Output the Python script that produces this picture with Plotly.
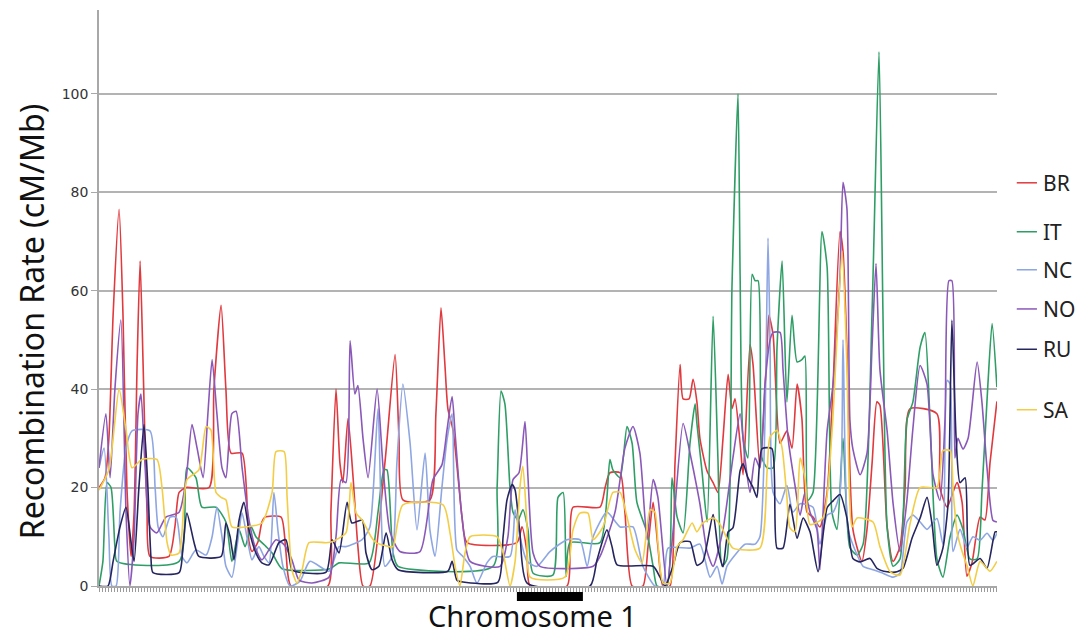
import plotly.graph_objects as go

# ---- data (x = marker position index along chromosome 1, y = cM/Mb) ----
br_pos = [0, 2, 3.3, 4.7, 6.7, 8, 9.3, 10.7, 11.7, 12.7, 13.7, 14.7, 16, 17, 23.3, 25.3, 26.7, 29, 36.7, 38.3, 40.7, 42.3, 44, 47.7, 50, 51, 53, 54.3, 55.3, 60.7, 62.3, 64, 76.3, 77.3, 79, 80.3, 81.3, 83, 84.7, 86.3, 88, 90.3, 95.3, 98.7, 100, 101.3, 110.3, 112.3, 114, 115.3, 116.3, 118, 119.7, 121, 122.7, 139.3, 141, 142.7, 143.7, 156, 157, 158, 167, 168.7, 170.3, 173.7, 175.3, 177.7, 181.3, 183, 184.7, 186.3, 188, 190.3, 192, 193.7, 194.7, 196.7, 198, 199.3, 200.3, 202.7, 204.7, 206.3, 208, 209.7, 211, 212, 213.7, 214.7, 217, 218, 220.3, 222.7, 223.3, 224.7, 227, 229.3, 231, 232.7, 234.3, 236, 238, 240.3, 242.7, 244.7, 247, 248, 249.3, 251.3, 254.3, 256, 257.7, 259.3, 260.3, 262.7, 264.7, 267, 268.7, 270.3, 279.3, 280.3, 282.7, 286, 287.7, 289.3, 291, 293.7, 295.3, 297, 299.3]
br_val = [20, 22, 30, 55, 76.5, 55, 20, 6, 15, 45, 66, 45, 15, 6, 6, 12, 19, 20, 20, 40, 57, 40, 27, 27, 9, 7, 9, 13, 14, 14, 7, 0, 0, 15, 40, 25, 21, 34, 22, 8, 0, 0, 25, 47, 30, 17.5, 17.5, 35, 56.5, 45, 36, 31.7, 22, 14, 8.8, 8.8, 12, 6.7, 0, 0, 8, 16, 16, 20, 23, 23, 15, 0, 0, 8, 17, 8, 0, 0, 25, 45, 38, 38, 42, 37.4, 30, 23.3, 21, 19, 30, 43, 36, 38, 29, 22.6, 49, 45, 24, 48.5, 55, 51, 29, 31.5, 28, 41, 34, 15, 14, 12, 19, 41, 72, 68, 48.5, 11.5, 5, 11.5, 25, 37.4, 36.7, 12, 5, 8, 20, 36, 35, 20, 16, 21, 17, 2, 4.7, 14, 13.4, 25, 37.5]

it_pos = [0, 1.3, 2.7, 4, 5.3, 6, 26.7, 29.3, 32.3, 34.3, 39, 42.3, 44.3, 46.7, 48.7, 50.7, 52.3, 55.7, 57.7, 61, 77, 80, 90, 93, 95, 96, 98, 99.7, 131.3, 132.7, 134, 135.3, 137, 138, 139.7, 141.3, 143, 144.7, 151.3, 153, 154.7, 155.7, 157, 167, 170.3, 171.3, 173.7, 176, 177.7, 179.3, 182.7, 184.7, 186, 189.3, 191, 192.7, 194.7, 197, 198.7, 199.3, 201, 202.7, 204.7, 206.3, 207.7, 209.3, 211, 213, 213.7, 214.7, 216.3, 217.7, 218.7, 219.7, 221, 222.7, 224.7, 226, 227.7, 229.3, 231, 232.7, 234.3, 235.3, 236.3, 238, 241, 242.7, 244.3, 246, 248, 250.3, 252.7, 254.7, 257.7, 260, 261.3, 262.7, 264.7, 267, 269.3, 271.3, 273.7, 275.3, 277, 279.3, 281.3, 283.7, 286, 288, 290.3, 292.7, 294.3, 296.3, 297.7, 299.3]
it_val = [0, 5, 21, 20, 8, 5, 5, 24, 22, 16, 16, 13, 5, 11.4, 8, 12, 10, 8, 6.7, 3.5, 3.5, 4.7, 4.7, 15, 23.6, 23.6, 6.7, 4, 4, 20, 39.6, 37, 20, 15, 13.4, 15.5, 11.4, 2.6, 2.2, 18, 19, 2, 8.8, 8.8, 25.7, 23.6, 22, 32.4, 29, 17, 10.8, 4, 0, 0, 22, 14, 10.8, 29, 37, 33, 23.3, 13, 54.8, 26, 4, 5.5, 61, 100, 63, 30, 26, 63.3, 62, 62, 26, 24, 24, 48.5, 66, 37.4, 55, 45.5, 46, 46.7, 17.4, 19, 72, 64.8, 15, 11.5, 30, 7.8, 6.3, 8.5, 56, 108.5, 56, 12, 4, 5.5, 33.7, 37.4, 48.5, 51.5, 33.7, 5.5, 1.8, 10, 14.4, 11.5, 5.5, 5.5, 19, 41, 53.3, 40.4]

nc_pos = [0, 1.7, 3.3, 4.3, 5.7, 7, 9, 11, 17, 18.7, 19.7, 21.3, 23.7, 25.7, 27.7, 29.3, 32.3, 35.7, 37.7, 39.3, 41, 42.3, 44.3, 46, 47.7, 49.3, 51, 53.3, 55, 56.7, 58.3, 59.7, 61.3, 63.7, 67, 70.3, 76.7, 80, 82.3, 87.7, 90.3, 93, 95.3, 97.7, 99.3, 101.3, 103.7, 106, 108.7, 110.3, 112, 114.3, 116, 117.7, 119.3, 121.3, 123.7, 126, 129.3, 131.3, 137, 138.7, 140.3, 142.7, 146, 150.3, 156, 160.3, 162.7, 164.7, 169.3, 173.7, 178, 181.3, 185.3, 188, 189.7, 197, 200.3, 203.7, 206, 207.7, 209.3, 212, 215.3, 218.7, 220.3, 222, 223, 223.7, 224.7, 227, 229.3, 231.3, 233.7, 238, 240.3, 242.7, 244.7, 247, 248, 249.7, 252.7, 254.7, 258, 261.3, 264.7, 267, 269.3, 271.3, 273.7, 276, 279.3, 281.3, 282.7, 283.7, 284.7, 287, 289.3, 291.3, 293.7, 296, 298, 299.3]
nc_val = [24, 28, 10, 0, 0, 15, 28, 31.5, 31.5, 20, 12, 10, 14, 14, 6, 4.7, 7.3, 6.3, 10, 16, 10, 4, 1.8, 8, 14.8, 10, 5.3, 8, 6, 4.7, 19, 11, 4, 0, 1, 5, 3, 8, 8, 9.4, 12, 36, 4, 6, 25, 41, 29, 11.4, 27, 11.4, 6, 20, 29.7, 35, 7.3, 6, 4, 0.6, 4.7, 6, 6, 15.5, 10, 5, 4, 7, 9.4, 9.4, 4, 10, 15, 12, 12, 4, 0, 0, 7.7, 7.7, 8.5, 1.8, 4, 0.4, 4, 6.3, 8.5, 8.5, 10, 33.7, 70.7, 48.5, 19, 16.7, 20.4, 15, 16.7, 16, 8.5, 14.4, 15, 19, 50, 11.5, 6.3, 4, 3.3, 2.6, 1.8, 2.6, 13, 14.4, 13, 11.5, 13.7, 8.5, 41.8, 41, 7, 11.5, 7.8, 10, 9.3, 10.7, 9.3, 10.7]

no_pos = [0, 2.3, 3.7, 5.3, 7.3, 9, 10.3, 11.7, 13, 14, 15.3, 17, 19.3, 22.3, 26.7, 29, 31, 32.7, 34.7, 36.3, 37.7, 39.3, 41, 42.3, 44.3, 45.7, 47.7, 50, 52, 54.3, 59, 61.7, 64.3, 66.7, 71, 76.7, 79, 80.7, 82.3, 83.7, 85.3, 86.3, 88, 89.7, 92.7, 94.7, 97, 100.3, 107, 111.3, 114.3, 116, 117.7, 118.7, 121, 123.7, 133.7, 136.3, 138, 140, 142, 143, 144.7, 147, 164.7, 167, 172, 175.3, 178, 180.3, 182.7, 184.7, 186.3, 189.3, 191.3, 194.7, 197, 199.3, 200.3, 202.7, 204.7, 208, 211.3, 213.7, 215.3, 217, 218.7, 220.3, 222, 223.7, 224.7, 227, 228, 229.7, 232, 233.7, 235.3, 237, 239.3, 240.3, 242.7, 244.7, 247, 248, 249.3, 250.3, 251.3, 253.7, 256, 257.7, 259, 260.3, 262.7, 264.7, 267, 269.3, 271.3, 273.7, 276, 278, 280.3, 282, 283.3, 284.3, 285.3, 286.3, 288, 289.7, 292.7, 294.3, 296, 298, 299.3]
no_val = [24, 35, 22, 40, 54, 15, 0, 10, 35, 39, 25, 12, 10.8, 14, 15, 21.6, 32.8, 28, 22, 35, 46, 35, 24, 22, 35, 35.5, 24, 13.4, 8, 5.3, 9.4, 8.4, 5.3, 1.2, 0.6, 1.8, 10, 21.6, 21, 49.8, 39, 40.7, 30, 22, 40, 24, 11, 7, 7, 21.6, 24.6, 31.7, 38.5, 31, 14, 5, 4, 10, 21.6, 23, 33.4, 22, 6.7, 4, 4, 6, 15, 28, 32.4, 27, 9.4, 21.6, 18, 0, 10.8, 33, 27, 20, 16.7, 7, 4, 11.5, 26, 35, 26, 19, 26, 24, 41, 50, 51.5, 51.5, 44, 30, 20.4, 14.4, 19, 15, 11.5, 3.3, 31.5, 41, 63, 82, 76.7, 33.7, 27.8, 22.6, 27, 49, 65.5, 44, 31.5, 16.7, 7, 17.4, 32, 44.8, 41, 22.6, 17.4, 33.7, 62, 62, 26, 30, 27.8, 30, 45.5, 37.4, 24, 13.3, 13]

ru_pos = [0, 3, 4.7, 7, 9, 10.7, 11.7, 13.3, 15, 16.3, 17.3, 18, 26.7, 28, 29.3, 31.7, 33.3, 40.7, 42.3, 43.7, 45, 46.7, 48.3, 50, 52.3, 54.3, 56.7, 60, 62.3, 64.3, 66.7, 75.7, 77.7, 80, 82.7, 84.3, 87.7, 89, 91, 93.3, 95.7, 97.7, 99.7, 116.3, 117.7, 119.3, 121.3, 133, 134.7, 136, 137.7, 138.7, 140.3, 142.7, 163.7, 166, 169.3, 171, 172.7, 184.7, 187, 188.7, 191.3, 193.7, 197, 199.3, 201.3, 204.7, 206.3, 208, 209.7, 211.3, 213.7, 214.7, 216.3, 218, 219.3, 221, 224.3, 226, 228, 230.3, 232.7, 234.7, 237, 239.7, 242.7, 244.7, 247, 249.3, 251.3, 253.7, 257, 259.3, 262.7, 266, 268, 271, 273.7, 276, 277.7, 279.3, 281.3, 283, 284.3, 285.7, 287, 288.7, 290.3, 293.7, 296, 298.7, 299.3]
ru_val = [0, 0, 5, 12, 16, 8.8, 5, 20, 32.8, 20, 6, 2.7, 2.7, 8, 14.8, 8.8, 6, 6, 12.8, 10, 5.3, 13.4, 17, 11.4, 6.7, 4.7, 4.3, 8.8, 9.4, 3.3, 2.8, 2.8, 9.4, 6.7, 17, 12.8, 13.4, 6.7, 3.3, 4, 10.8, 5.3, 3.3, 3, 5, 1.2, 0.8, 0.8, 10, 17.5, 20.6, 19.5, 10.8, 0.6, 0, 5.3, 11.4, 8, 4.3, 4, 1.8, 0, 4, 8.8, 9, 4.2, 5, 14.5, 7.7, 3.9, 11, 11.8, 23.4, 24.8, 22, 20, 18, 27.9, 27.9, 7.7, 7.7, 16.6, 9.7, 13.8, 11, 2.9, 15.9, 17.3, 18.6, 13.8, 5.6, 4.9, 5.6, 3.6, 2.9, 2.9, 3.6, 9.7, 13.8, 18, 12.5, 4.2, 7.7, 16.6, 54, 30, 21, 22, 4.2, 5.6, 3.6, 11, 11]

sa_pos = [0, 3.3, 6.7, 9, 11, 14.3, 19.3, 21, 22.7, 24, 26.7, 29.3, 33.3, 35.7, 37.3, 39, 40.7, 42.3, 44.3, 49, 54.3, 57.7, 59, 61.7, 62.7, 64.3, 66, 67.7, 70, 75.7, 77.7, 82.3, 84, 85.7, 87.7, 90.7, 92.3, 96.7, 98, 101.3, 114.7, 117, 118.7, 120.3, 122, 123.7, 132.7, 134.7, 137, 138.7, 140.3, 141.3, 142.7, 143.7, 155.3, 158, 160.3, 163, 164.7, 168, 171.3, 173.7, 176, 178.7, 181, 183.7, 185.3, 186.3, 188, 190.3, 192.7, 194.7, 197.7, 199.3, 201.3, 204.7, 207, 209.3, 211.3, 220.3, 222.7, 223.7, 226, 227.7, 229.3, 230.3, 232, 233.7, 235.3, 237, 241.3, 244.3, 247.7, 249.3, 251, 252.7, 258, 260.3, 263.7, 267, 270.3, 273.7, 279.3, 281.3, 283.7, 284.7, 286, 287.7, 289.3, 291.3, 293.7, 297, 299.3]
sa_val = [19.5, 23.6, 40, 31.7, 24, 25.7, 25.7, 20, 8.8, 6.3, 6.7, 21.6, 23.6, 32.4, 31.7, 19, 18, 17.5, 12, 12, 12.8, 19, 27.3, 27.3, 18, 3.3, 0.6, 3.3, 8.8, 8.8, 9, 10.8, 21, 14.8, 13.4, 10, 8.8, 8, 8, 16.5, 16.5, 10.8, 4, 0, 6.7, 10, 10, 6.7, 0, 5, 20, 24.3, 12, 1.8, 1.8, 11.4, 14.8, 14.8, 9.4, 12, 19, 19, 14, 7.3, 4.7, 15.5, 15, 8.8, 0.6, 0.6, 8, 9.4, 12.8, 11, 12.8, 13.8, 12.5, 9.7, 7.7, 7.7, 23.4, 30.3, 31.6, 28, 18, 11.8, 11, 26, 22, 12.5, 13.8, 31, 68, 45, 12, 13.8, 13, 8, 2.9, 2.2, 12.5, 20, 20, 27.5, 27.5, 19.3, 11, 7, 4.2, 0, 5, 3, 5]

series_names = ["BR", "IT", "NC", "NO", "RU", "SA"]
series_pos = [br_pos, it_pos, nc_pos, no_pos, ru_pos, sa_pos]
series_val = [br_val, it_val, nc_val, no_val, ru_val, sa_val]
series_colors = ["#e0393e", "#2f9e66", "#8ea6e2", "#8a58b8", "#25255f", "#f2cd45"]
legend_y = [0.700, 0.615, 0.549, 0.481, 0.411, 0.306]

y_ticks = [0, 20, 40, 60, 80, 100]
n_markers = 299.33
centromere_start = 139.3
centromere_end = 161.3

fig = go.Figure()
for name, xs, ys, col in zip(series_names, series_pos, series_val, series_colors):
    fig.add_trace(go.Scatter(x=xs, y=ys, mode="lines", name=name,
                             line=dict(color=col, width=1.6, shape="spline", smoothing=0.6),
                             showlegend=False))

shapes = []
annotations = []
for name, col, ly in zip(series_names, series_colors, legend_y):
    shapes.append(dict(type="line", xref="paper", yref="paper", x0=1.022, x1=1.0445,
                       y0=ly, y1=ly, line=dict(color=col, width=1.5)))
    annotations.append(dict(xref="paper", yref="paper", x=1.049, y=ly, text=name,
                            showarrow=False, xanchor="left", yanchor="middle",
                            font=dict(family="Noto Sans", size=21, color="#222222")))

shapes.append(dict(type="rect", xref="x", yref="paper", x0=centromere_start, x1=centromere_end,
                   y0=-0.026, y1=-0.0104, fillcolor="black", line=dict(width=0)))

annotations.append(dict(xref="paper", yref="paper", x=0.483, y=-0.052, text="Chromosome 1",
                        showarrow=False, xanchor="center", yanchor="middle",
                        font=dict(family="Noto Sans", size=29, color="#111111")))
annotations.append(dict(xref="paper", yref="paper", x=-0.0755, y=0.46,
                        text="Recombination Rate (cM/Mb)", textangle=-90,
                        showarrow=False, xanchor="center", yanchor="middle",
                        font=dict(family="Noto Sans", size=32, color="#111111")))

# page body has an 8px default margin, so the figure is sized 8px smaller
fig.update_layout(
    width=1075, height=627,
    margin=dict(l=91, r=86, t=2, b=49),
    paper_bgcolor="white", plot_bgcolor="white",
    shapes=shapes, annotations=annotations,
    showlegend=False,
)
fig.update_xaxes(range=[0, n_markers], tickmode="linear", tick0=0, dtick=1,
                 ticks="outside", ticklen=4, tickwidth=1, tickcolor="#9a9a9a",
                 showticklabels=False, showgrid=False, zeroline=False,
                 showline=True, linecolor="#a8a8a8", linewidth=1.5)
fig.update_yaxes(range=[0, 117], tickvals=y_ticks, ticks="outside", ticklen=6,
                 tickcolor="#a8a8a8", showgrid=True, gridcolor="#b3b3b3", gridwidth=1.5,
                 zeroline=False, showline=True, linecolor="#a8a8a8", linewidth=1.5,
                 tickfont=dict(family="DejaVu Sans", size=14, color="#333333"))

fig.write_html("out.html")
